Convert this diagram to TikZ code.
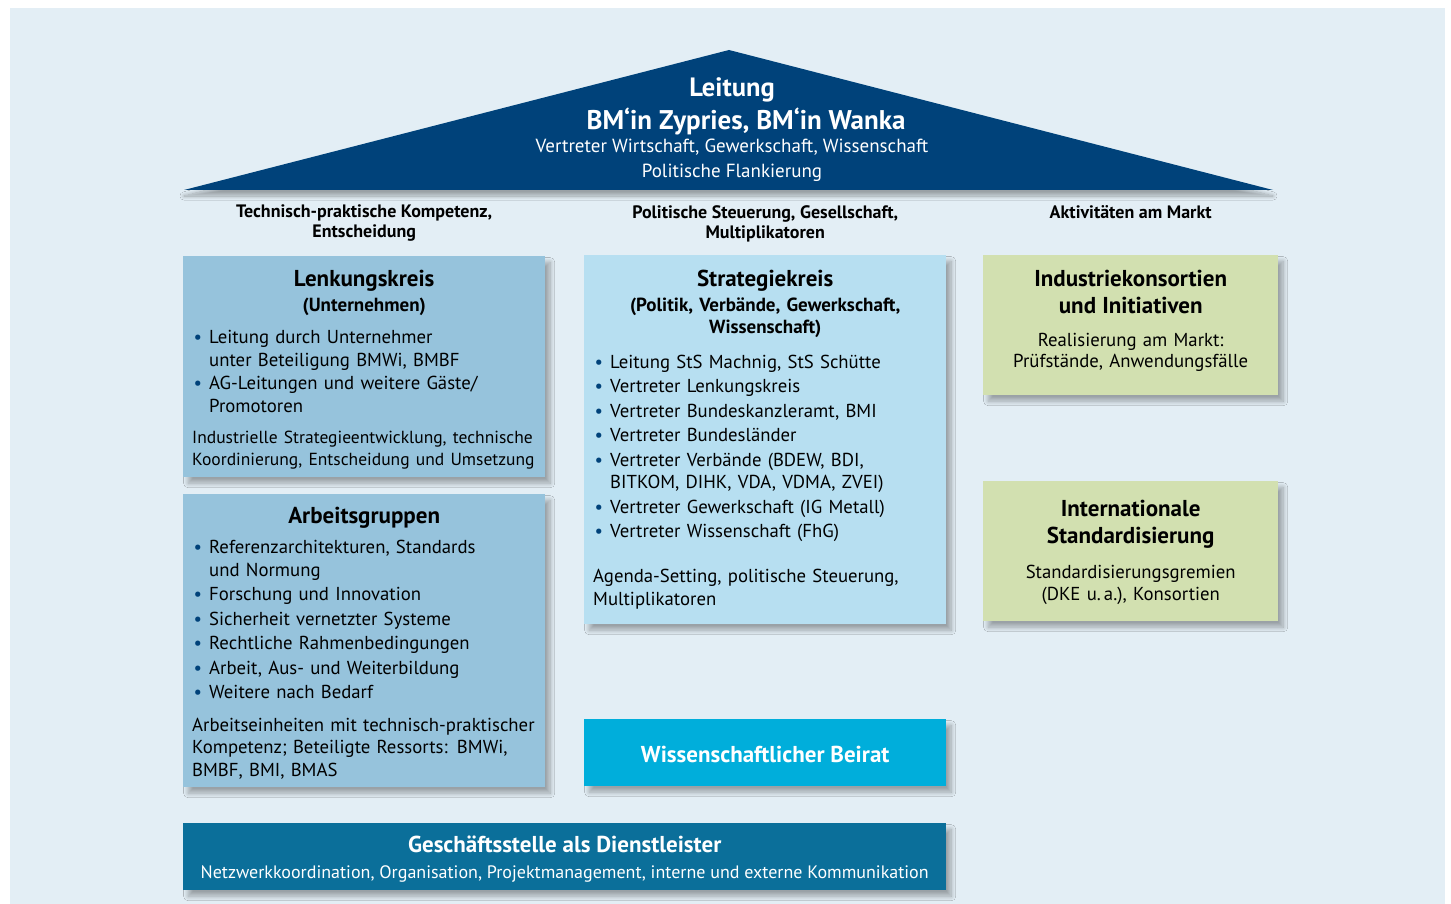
\documentclass[tikz,border=0pt]{standalone}
\usepackage{fontspec}
\setmainfont{PT Sans}
\usepackage{xcolor}
\usetikzlibrary{positioning, shadows.blur}

\definecolor{bgblue}{HTML}{E3EEF5}
\definecolor{roofblue}{HTML}{00427A}
\definecolor{lenkblue}{HTML}{96C3DC}
\definecolor{stratblue}{HTML}{B7DFF1}
\definecolor{marktgreen}{HTML}{D2E0B0}
\definecolor{beiratblue}{HTML}{00AEDB}
\definecolor{gsblue}{HTML}{0B6F9A}

\newcommand{\boxtitle}{\fontsize{23}{27}\selectfont\bfseries}
\newcommand{\boxsub}{\fontsize{19}{22}\selectfont\bfseries}
\newcommand{\itm}{\par\vspace{2pt}\hangindent=17pt\hangafter=1\noindent\makebox[17pt][l]{\hspace{1.5pt}\textcolor{roofblue}{\textbullet}}}

\tikzset{
  panel/.style={rectangle, inner sep=0pt, anchor=north west,
    blur shadow={shadow xshift=5pt, shadow yshift=-6pt, shadow blur radius=4.5pt, shadow blur steps=16, shadow opacity=32}},
  txt/.style={inner sep=0pt, text width=344pt, align=left, font=\fontsize{18.75}{22.5}\selectfont},
  gtxt/.style={inner sep=0pt, text width=285pt, align=center, font=\fontsize{18.75}{21.5}\selectfont},
  head/.style={inner sep=0pt, align=center, font=\fontsize{18}{20}\selectfont\bfseries},
}

\begin{document}
\begin{tikzpicture}[x=1pt, y=-1pt]
  \useasboundingbox (0,0) rectangle (1451,904);
  \fill[bgblue] (10,8) rectangle (1445,904);

  % Dach
  \coordinate (roofl) at (184,190);
  \coordinate (rooftop) at (729,50);
  \coordinate (roofr) at (1273,190);
  \fill[roofblue, blur shadow={shadow xshift=0pt, shadow yshift=-6pt, shadow blur radius=4pt, shadow blur steps=16, shadow opacity=32}]
    (roofl) -- (rooftop) -- (roofr) -- cycle;
  \node[align=center, text=white, inner sep=0pt, anchor=north, font=\fontsize{19}{25}\selectfont] (leitung) at (732,77)
    {{\fontsize{26.5}{25}\selectfont\bfseries Leitung}\\[5pt]
     {\fontsize{27}{25}\selectfont\bfseries\hspace*{28pt}BM‘in Zypries, BM‘in Wanka}\\[-2pt]
     Vertreter Wirtschaft, Gewerkschaft, Wissenschaft\\
     Politische Flankierung};

  % Kaesten
  \node[panel, fill=lenkblue, minimum width=362pt, minimum height=221pt] (lenk) at (183,256) {};
  \node[panel, fill=lenkblue, minimum width=362pt, minimum height=293pt] (arbeit) at (183,494) {};
  \node[panel, fill=stratblue, minimum width=362pt, minimum height=369pt] (strat) at (584,255) {};
  \node[panel, fill=marktgreen, minimum width=295pt, minimum height=140pt] (indu) at (983,255) {};
  \node[panel, fill=marktgreen, minimum width=295pt, minimum height=140pt] (intl) at (983,481) {};
  \node[panel, fill=beiratblue, minimum width=362pt, minimum height=67pt] (beirat) at (584,719) {};
  \node[panel, fill=gsblue, minimum width=763pt, minimum height=67pt] (gs) at (183,823) {};

  % Spaltenkoepfe
  \node[head, above=14pt of lenk.north] (colleft) {Technisch-praktische Kompetenz,\\Entscheidung};
  \node[head, above=13pt of strat.north] (colmid) {Politische Steuerung, Gesellschaft,\\Multiplikatoren};
  \node[head, above=36pt of indu.north] (colright) {Aktivitäten am Markt};

  \node[txt, below=13.5pt of lenk.north] (lenktext) {%
    {\centering\boxtitle Lenkungskreis\par\vspace{3pt}\boxsub (Unternehmen)\par}
    \vspace{8pt}
    \itm Leitung durch Unternehmer\newline unter Beteiligung BMWi, BMBF
    \par\vspace{-1pt}\itm AG-Leitungen und weitere Gäste/\newline Promotoren
    \par\vspace{10pt}\noindent{\fontsize{17.5}{21.5}\selectfont
    \mbox{Industrielle Strategieentwicklung, technische}\newline
    \mbox{Koordinierung, Entscheidung und Umsetzung}\par}};

  \node[txt, below=12.5pt of arbeit.north] (arbeittext) {%
    {\centering\boxtitle Arbeitsgruppen\par}
    \vspace{6pt}
    \itm Referenzarchitekturen, Standards\newline und Normung
    \itm Forschung und Innovation
    \itm Sicherheit vernetzter Systeme
    \itm Rechtliche Rahmenbedingungen
    \itm Arbeit, Aus- und Weiterbildung
    \itm Weitere nach Bedarf
    \par\vspace{10pt}\noindent Arbeitseinheiten mit technisch-praktischer\newline
    Kompetenz; Beteiligte Ressorts: BMWi,\newline BMBF, BMI, BMAS};

  \node[txt, below=15pt of strat.north] (strattext) {%
    {\centering\boxtitle Strategiekreis\par\vspace{3pt}\boxsub (Politik, Verbände, Gewerkschaft,\\Wissenschaft)\par}
    \vspace{10pt}
    \itm Leitung StS Machnig, StS Schütte
    \itm Vertreter Lenkungskreis
    \itm Vertreter Bundeskanzleramt, BMI
    \itm Vertreter Bundesländer
    \itm Vertreter Verbände (BDEW, BDI,\newline BITKOM, DIHK, VDA, VDMA, ZVEI)
    \itm Vertreter Gewerkschaft (IG Metall)
    \itm Vertreter Wissenschaft (FhG)
    \par\vspace{22.5pt}\noindent Agenda-Setting, politische Steuerung,\newline Multiplikatoren};

  \node[gtxt, below=15pt of indu.north] (indutext) {%
    {\boxtitle Industriekonsortien\\und Initiativen\par}\vspace{11pt}
    Realisierung am Markt:\\Prüfstände, Anwendungsfälle};
  \node[gtxt, below=18.5pt of intl.north] (intltext) {%
    {\boxtitle Internationale\\Standardisierung\par}\vspace{14pt}
    Standardisierungsgremien\\(DKE u.\,a.), Konsortien};

  \node[text=white, font=\fontsize{23}{27}\selectfont\bfseries] (beirattext) at ([yshift=-2pt]beirat.center) {Wissenschaftlicher Beirat};
  \node[text=white, align=center, font=\fontsize{18}{26}\selectfont] (gstext) at ([yshift=-2.5pt]gs.center)
    {{\fontsize{23}{27}\selectfont\bfseries Geschäftsstelle als Dienstleister}\\
     Netzwerkkoordination, Organisation, Projektmanagement, interne und externe Kommunikation};
\end{tikzpicture}
\end{document}
